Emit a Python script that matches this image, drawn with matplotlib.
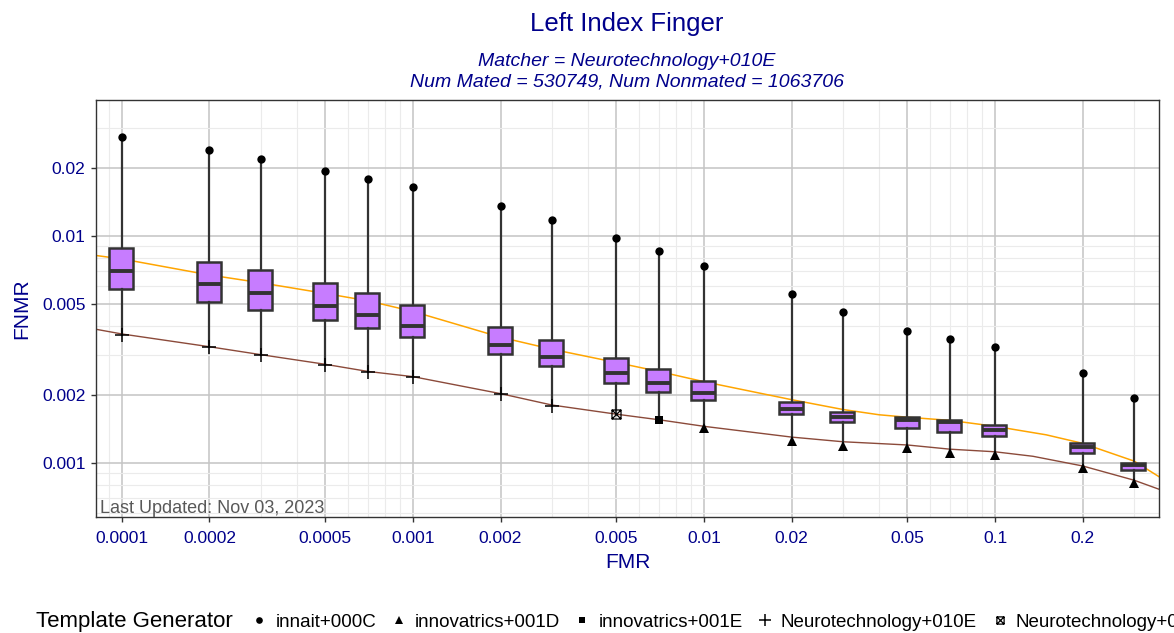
import matplotlib
matplotlib.use("Agg")
import matplotlib.pyplot as plt
from matplotlib.lines import Line2D
from matplotlib.path import Path
from matplotlib.ticker import FixedLocator, NullFormatter

plt.rcParams['font.family'] = ['Liberation Sans', 'DejaVu Sans']

# FMR thresholds where the boxes sit
fmr = [0.0001, 0.0002, 0.0003, 0.0005, 0.0007, 0.001, 0.002, 0.003, 0.005,
       0.007, 0.01, 0.02, 0.03, 0.05, 0.07, 0.1, 0.2, 0.3]
fnmr_max = [0.0273, 0.0239, 0.0218, 0.0193, 0.0178, 0.0164, 0.01355, 0.01175, 0.00983,
            0.00859, 0.00738, 0.00555, 0.00463, 0.00381, 0.00352, 0.00324, 0.0025, 0.00194]
fnmr_q3 = [0.00886, 0.0077, 0.00708, 0.00619, 0.00562, 0.00497, 0.00398, 0.00348, 0.00289,
           0.00259, 0.0023, 0.00186, 0.00168, 0.00159, 0.00154, 0.00147, 0.00123, 0.00100]
fnmr_med = [0.00701, 0.00615, 0.0056, 0.00489, 0.00449, 0.00403, 0.00331, 0.00294, 0.00248,
            0.00226, 0.00204, 0.00173, 0.00159, 0.00155, 0.00151, 0.00139, 0.00117, 0.00098]
fnmr_q1 = [0.00585, 0.00514, 0.00472, 0.00427, 0.00394, 0.0036, 0.00302, 0.00267, 0.00226,
           0.00206, 0.0019, 0.00164, 0.00151, 0.00142, 0.00137, 0.00131, 0.00111, 0.000931]
fnmr_min = [0.00366, 0.00324, 0.00299, 0.0027, 0.00252, 0.00238, 0.00201, 0.00179, 0.00164,
            0.00155, 0.00143, 0.00125, 0.00119, 0.00116, 0.00111, 0.00108, 0.00095, 0.000818]
max_gen = ['innait+000C'] * 18
min_gen = ['Neurotechnology+010E'] * 8 + ['Neurotechnology+011E', 'innovatrics+001E'] + ['innovatrics+001D'] * 8

# the two reference curves
orange_fmr = [8.15e-5, 1e-4, 2e-4, 3e-4, 5e-4, 7e-4, 1e-3, 2e-3, 3e-3, 5e-3, 7e-3, 1e-2,
              2e-2, 3e-2, 4e-2, 5e-2, 7e-2, 1e-1, 1.5e-1, 2e-1, 3e-1, 0.366]
orange_fnmr = [0.0082, 0.00792, 0.00673, 0.00622, 0.00558, 0.00518, 0.00465, 0.00358, 0.00317,
               0.00277, 0.00253, 0.00228, 0.0019, 0.00172, 0.00163, 0.00159, 0.00154, 0.00145,
               0.00133, 0.00122, 0.00102, 0.00087]
brown_fmr = [8.15e-5, 1e-4, 2e-4, 3e-4, 5e-4, 7e-4, 1e-3, 2e-3, 3e-3, 5e-3, 7e-3, 1e-2,
             2e-2, 3e-2, 5e-2, 7e-2, 1e-1, 1.35e-1, 2e-1, 3e-1, 0.366]
brown_fnmr = [0.00388, 0.0037, 0.00325, 0.003, 0.00272, 0.00253, 0.0024, 0.00202, 0.0018,
              0.00164, 0.00155, 0.00145, 0.0013, 0.00124, 0.0012, 0.00115, 0.00112, 0.00107,
              0.00097, 0.00084, 0.000766]

generators = ['innait+000C', 'innovatrics+001D', 'innovatrics+001E',
              'Neurotechnology+010E', 'Neurotechnology+011E']

# square with a cross (ggplot shape 7)
sq_cross = Path([(-1, -1), (1, -1), (1, 1), (-1, 1), (-1, -1), (-1, -1), (1, 1), (-1, 1), (1, -1)],
                [Path.MOVETO, Path.LINETO, Path.LINETO, Path.LINETO, Path.CLOSEPOLY,
                 Path.MOVETO, Path.LINETO, Path.MOVETO, Path.LINETO])
styles = {
    'innait+000C': dict(marker='o', ms=6, mfc='black', mec='black', mew=0),
    'innovatrics+001D': dict(marker='^', ms=7.5, mfc='black', mec='black', mew=0),
    'innovatrics+001E': dict(marker='s', ms=6, mfc='black', mec='black', mew=0),
    'Neurotechnology+010E': dict(marker='+', ms=10, mfc='black', mec='black', mew=1.1),
    'Neurotechnology+011E': dict(marker=sq_cross, ms=6.5, mfc='none', mec='black', mew=0.9),
}

blue = '#00008B'
edge = '#333333'

fig = plt.figure(figsize=(11.74, 6.33), dpi=100)
ax = fig.add_axes([96 / 1174, 1 - 517 / 633, (1159 - 96) / 1174, (517 - 100) / 633])
ax.set_xscale('log')
ax.set_yscale('log')
ax.set_xlim(8.15e-5, 0.366)
ax.set_ylim(0.000578, 0.0397)

# grid
xmaj = [0.0001, 0.0002, 0.0005, 0.001, 0.002, 0.005, 0.01, 0.02, 0.05, 0.1, 0.2]
ymaj = [0.001, 0.002, 0.005, 0.01, 0.02]
xmin_t = [k * 10.0 ** e for e in range(-5, 0) for k in range(1, 10)]
xmin_t = [v for v in xmin_t if all(abs(v - m) > 1e-12 for m in xmaj)]
ymin_t = [k * 10.0 ** e for e in range(-4, -1) for k in range(1, 10)]
ymin_t = [v for v in ymin_t if all(abs(v - m) > 1e-12 for m in ymaj)]
ax.xaxis.set_major_locator(FixedLocator(xmaj))
ax.yaxis.set_major_locator(FixedLocator(ymaj))
ax.xaxis.set_minor_locator(FixedLocator(xmin_t))
ax.yaxis.set_minor_locator(FixedLocator(ymin_t))
ax.xaxis.set_minor_formatter(NullFormatter())
ax.yaxis.set_minor_formatter(NullFormatter())
ax.set_xticklabels([f'{v:g}' if v >= 0.001 else f'{v:.4f}' for v in xmaj])
ax.set_yticklabels([f'{v:g}' for v in ymaj])
ax.grid(True, which='major', color='#C4C4C4', lw=1.1, zorder=0)
ax.grid(True, which='minor', color='#EBEBEB', lw=0.8, zorder=0)
ax.set_axisbelow(True)
ax.tick_params(which='minor', length=0)
ax.tick_params(which='major', length=3.5, width=1, color=edge, labelcolor=blue, labelsize=12.5)
ax.tick_params(axis='x', which='major', pad=6.5)
ax.tick_params(axis='y', which='major', pad=4)
for s in ax.spines.values():
    s.set_color(edge)
    s.set_linewidth(1)

# curves
ax.plot(orange_fmr, orange_fnmr, color='#FFA500', lw=1.1, zorder=2)
ax.plot(brown_fmr, brown_fnmr, color='#8B4A3A', lw=1.0, zorder=2)

# boxes
stats = []
for i in range(len(fmr)):
    stats.append(dict(med=fnmr_med[i], q1=fnmr_q1[i], q3=fnmr_q3[i],
                      whislo=fnmr_min[i], whishi=fnmr_max[i], fliers=[]))
widths = [x * 0.189 for x in fmr]
ax.bxp(stats, positions=fmr, widths=widths, showcaps=False, patch_artist=True,
       manage_ticks=False, zorder=3,
       boxprops=dict(facecolor='#C77CFF', edgecolor=edge, linewidth=1.8),
       medianprops=dict(color=edge, linewidth=2.8),
       whiskerprops=dict(color=edge, linewidth=1.6))

# extreme points
for i in range(len(fmr)):
    ax.plot(fmr[i], fnmr_max[i], ls='none', zorder=4, **styles[max_gen[i]])
    ax.plot(fmr[i], fnmr_min[i], ls='none', zorder=4, **styles[min_gen[i]])

ax.text(0.004, 0.0, 'Last Updated: Nov 03, 2023', transform=ax.transAxes,
        color='#595959', fontsize=13, ha='left', va='bottom')

ax.set_xlabel('FMR', color=blue, fontsize=15, labelpad=5)
ax.set_ylabel('FNMR', color=blue, fontsize=15, labelpad=8)

fig.text(627 / 1174, 1 - 24 / 633, 'Left Index Finger', color=blue, fontsize=18.5,
         ha='center', va='center')
fig.text(627 / 1174, 1 - 61 / 633, 'Matcher = Neurotechnology+010E', color=blue,
         fontsize=14, style='italic', ha='center', va='center')
fig.text(627 / 1174, 1 - 82 / 633, 'Num Mated = 530749, Num Nonmated = 1063706', color=blue,
         fontsize=14, style='italic', ha='center', va='center')

# legend along the bottom (runs off the right edge as in the original)
fig.text(36 / 1174, 1 - 622 / 633, 'Template Generator', fontsize=16, ha='left', va='center')
handles = [Line2D([], [], ls='none', **styles[g]) for g in generators]
for h, g in zip(handles, generators):
    h.set_markersize(styles[g]['ms'] * 0.8)
fig.legend(handles, generators, loc='center left', bbox_to_anchor=(251 / 1174, 1 - 622 / 633),
           ncol=5, frameon=False, fontsize=13.5, handlelength=0.9, handletextpad=0.4,
           columnspacing=0.75, borderaxespad=0, borderpad=0)

fig.savefig('out.png', dpi=100)
